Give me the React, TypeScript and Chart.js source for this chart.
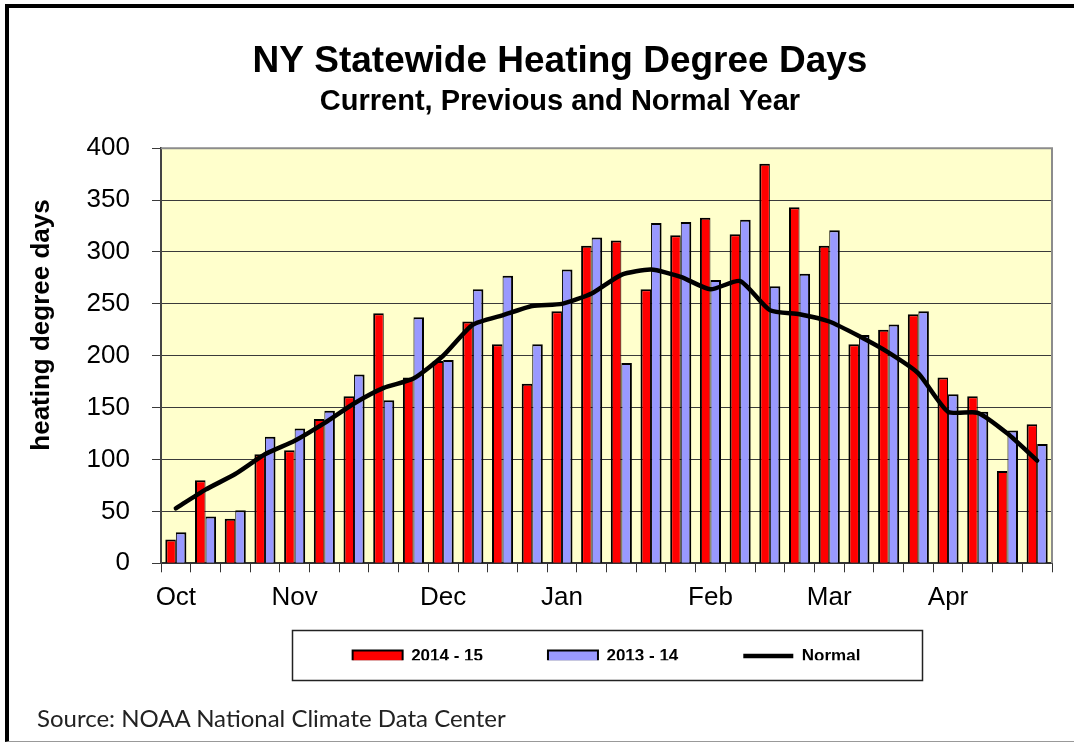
import React, { useEffect, useRef } from "react";
import { Chart, registerables } from "chart.js";

Chart.register(...registerables);

// ---- data ----
const weekLabels = [
  "Oct", "", "", "", "Nov", "", "", "", "", "Dec", "", "", "", "Jan", "", "",
  "", "", "Feb", "", "", "", "Mar", "", "", "", "Apr", "", "", "",
];
const current1415 = [
  23, 80, 43, 105, 109, 139, 161, 241, 179, 195, 233, 211, 173, 243, 306, 311,
  264, 316, 333, 317, 385, 343, 306, 211, 225, 240, 179, 161, 89, 134,
];
const previous1314 = [
  30, 45, 51, 122, 130, 147, 182, 157, 237, 196, 264, 277, 211, 283, 314, 193,
  328, 329, 273, 331, 267, 279, 321, 220, 230, 243, 163, 146, 128, 115,
];
const normalHdd = [
  53, 71, 86, 105, 118, 135, 154, 169, 178, 200, 230, 239, 248, 250, 260, 278,
  283, 276, 264, 272, 244, 240, 233, 219, 203, 183, 146, 145, 125, 99,
];
const seriesNames = ["2014 - 15", "2013 - 14", "Normal"];
const yMin = 0;
const yMax = 400;
const yStep = 50;
const chartTitle = "NY Statewide Heating Degree Days";
const chartSubtitle = "Current, Previous and Normal Year";
const yAxisTitle = "heating degree days";
const sourceText = "Source: NOAA National Climate Data Center";

const FONT = "'Liberation Sans', Arial, sans-serif";
const RED = "#FF0000";
const BLUE = "#9999FF";
const LEGEND_PAD = 65;
const LEGEND_FONT = 17;
const X_AXIS_H = 52;
const LEGEND_TITLE_SHIFT = -32.8; // pulls legend items up inside their box
const LEGEND_H = 45;

export default function App() {
  const ref = useRef<HTMLCanvasElement | null>(null);

  useEffect(() => {
    if (!ref.current) return;

    const plotPlugin = {
      id: "plotBg",
      beforeDraw(chart: any) {
        const { ctx, chartArea: a } = chart;
        ctx.save();
        ctx.fillStyle = "#FFFFCC";
        ctx.fillRect(a.left, a.top, a.right - a.left, a.bottom - a.top);
        ctx.restore();
      },
      beforeDatasetsDraw(chart: any) {
        const { ctx, chartArea: a } = chart;
        ctx.save();
        ctx.strokeStyle = "#8c8c8c";
        ctx.lineWidth = 2;
        ctx.beginPath();
        ctx.moveTo(a.left, a.top);
        ctx.lineTo(a.right, a.top);
        ctx.lineTo(a.right, a.bottom);
        ctx.stroke();
        ctx.restore();
      },
      afterDraw(chart: any) {
        const { ctx } = chart;
        // y axis title
        ctx.save();
        ctx.translate(42, 325);
        ctx.rotate(-Math.PI / 2);
        ctx.font = `bold 26px ${FONT}`;
        ctx.fillStyle = "#000";
        ctx.textAlign = "center";
        ctx.textBaseline = "middle";
        ctx.fillText(yAxisTitle, 0, 0);
        ctx.restore();
        // legend frame
        const lg = chart.legend;
        if (lg) {
          const cx = (lg.left + lg.right) / 2;
          const cy = lg.top + LEGEND_PAD + LEGEND_TITLE_SHIFT + LEGEND_FONT / 2;
          ctx.save();
          ctx.strokeStyle = "#222";
          ctx.lineWidth = 1.5;
          ctx.strokeRect(Math.round(cx - 315) + 0.5, Math.round(cy - 26) + 0.5, 630, 50);
          ctx.restore();
        }
      },
    };

    const chart = new Chart(ref.current, {
      type: "bar",
      data: {
        labels: weekLabels,
        datasets: [
          {
            type: "line",
            label: seriesNames[2],
            data: normalHdd,
            borderColor: "#000",
            backgroundColor: "#000",
            borderWidth: 4.5,
            pointRadius: 0,
            pointHoverRadius: 0,
            tension: 0.2,
            borderJoinStyle: "round",
            borderCapStyle: "round",
            pointStyle: "line",
          } as any,
          {
            type: "bar",
            label: seriesNames[0],
            data: current1415,
            backgroundColor: RED,
            borderColor: "#000",
            borderWidth: { top: 2, left: 2, right: 1, bottom: 0 },
            borderSkipped: "start",
            categoryPercentage: 0.71,
            barPercentage: 1,
          } as any,
          {
            type: "bar",
            label: seriesNames[1],
            data: previous1314,
            backgroundColor: BLUE,
            borderColor: "#000",
            borderWidth: { top: 2, left: 1, right: 2, bottom: 0 },
            borderSkipped: "start",
            categoryPercentage: 0.71,
            barPercentage: 1,
          } as any,
        ],
      },
      options: {
        responsive: false,
        animation: false,
        events: [],
        layout: {
          padding: { top: 0, left: 68, right: 22, bottom: 745 - 563.3 - X_AXIS_H - LEGEND_H },
        },
        plugins: {
          tooltip: { enabled: false },
          title: {
            display: true,
            text: chartTitle,
            color: "#000",
            font: { family: FONT, size: 37, weight: "bold" },
            padding: { top: 40, bottom: 0 },
          },
          subtitle: {
            display: true,
            text: chartSubtitle,
            color: "#000",
            font: { family: FONT, size: 29, weight: "bold" },
            padding: { top: 0, bottom: 29 },
          },
          legend: {
            position: "bottom",
            fullSize: false,
            maxHeight: LEGEND_H,
            title: {
              display: true,
              text: "",
              font: { family: FONT, size: 10 },
              padding: { top: 0, bottom: LEGEND_TITLE_SHIFT - 12 },
            },
            labels: {
              usePointStyle: true,
              pointStyleWidth: 50,
              boxHeight: 11,
              padding: LEGEND_PAD,
              color: "#000",
              font: { family: FONT, size: LEGEND_FONT, weight: "bold" },
              generateLabels: () => [
                {
                  text: seriesNames[0],
                  fillStyle: RED,
                  strokeStyle: "#000",
                  lineWidth: 2,
                  pointStyle: "rect",
                  hidden: false,
                  datasetIndex: 1,
                  fontColor: "#000",
                },
                {
                  text: seriesNames[1],
                  fillStyle: BLUE,
                  strokeStyle: "#000",
                  lineWidth: 2,
                  pointStyle: "rect",
                  hidden: false,
                  datasetIndex: 2,
                  fontColor: "#000",
                },
                {
                  text: seriesNames[2],
                  fillStyle: "#000",
                  strokeStyle: "#000",
                  lineWidth: 4.5,
                  pointStyle: "line",
                  hidden: false,
                  datasetIndex: 0,
                  fontColor: "#000",
                },
              ],
            },
          } as any,
        },
        scales: {
          x: {
            ticks: {
              autoSkip: false,
              maxRotation: 0,
              minRotation: 0,
              color: "#000",
              font: { family: FONT, size: 26 },
              padding: 10,
            },
            grid: {
              drawOnChartArea: false,
              drawTicks: true,
              tickLength: 9,
              color: "#333",
              offset: true,
            },
            border: { color: "#333", width: 2 },
            afterFit(scale: any) {
              scale.height = X_AXIS_H;
            },
          },
          y: {
            min: yMin,
            max: yMax,
            ticks: {
              stepSize: yStep,
              color: "#000",
              font: { family: FONT, size: 26 },
              padding: 22,
            },
            grid: {
              color: "#3a3a3a",
              lineWidth: 1,
              drawTicks: true,
              tickLength: 9,
            },
            border: { color: "#444", width: 2 },
            afterFit(scale: any) {
              scale.width = 93;
            },
          },
        },
      } as any,
      plugins: [plotPlugin],
    });

    return () => chart.destroy();
  }, []);

  return (
    <div style={{ position: "fixed", left: 0, top: 0, width: 1074, height: 745, background: "#fff" }}>
      <canvas
        ref={ref}
        width={1074}
        height={745}
        style={{ position: "absolute", left: 0, top: 0, width: 1074, height: 745 }}
      />
      <div
        style={{
          position: "absolute",
          left: 5,
          top: 4,
          width: 1069,
          height: 738,
          boxSizing: "border-box",
          borderTop: "4px solid #000",
          borderLeft: "4px solid #000",
          borderBottom: "1px solid #999",
          pointerEvents: "none",
        }}
      />
      <div
        style={{
          position: "absolute",
          left: 37,
          top: 705,
          fontFamily: "Lato, 'Noto Sans', sans-serif",
          fontSize: 24,
          lineHeight: "26px",
          color: "#222",
          whiteSpace: "nowrap",
        }}
      >
        {sourceText}
      </div>
    </div>
  );
}
